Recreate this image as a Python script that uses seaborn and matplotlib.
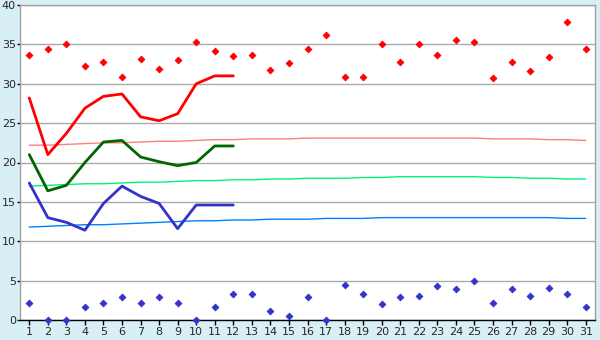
import numpy as np
import pandas as pd
import matplotlib
matplotlib.use("Agg")
import matplotlib.pyplot as plt
import seaborn as sns

# days of the month
days = list(range(1, 32))

# daily max points (red) and min points (blue)
max_pts = [33.7, 34.4, 35.0, 32.2, 32.8, 30.9, 33.2, 31.9, 33.0, 35.3,
           34.1, 33.5, 33.6, 31.8, 32.6, 34.4, 36.2, 30.9, 30.9, 35.0,
           32.8, 35.0, 33.6, 35.6, 35.3, 30.7, 32.8, 31.6, 33.4, 37.8, 34.4]
min_pts = [2.2, 0.0, 0.0, 1.7, 2.2, 2.9, 2.2, 2.9, 2.2, 0.0,
           1.7, 3.3, 3.3, 1.1, 0.5, 2.9, 0.0, 4.4, 3.3, 2.0,
           2.9, 3.0, 4.3, 3.9, 5.0, 2.2, 4.0, 3.0, 4.1, 3.3, 1.7]

# current month (first 12 days)
cur_days = list(range(1, 13))
cur_max = [28.2, 21.0, 23.7, 26.9, 28.4, 28.7, 25.8, 25.3, 26.2, 30.0, 31.0, 31.0]
cur_mean = [21.0, 16.4, 17.1, 20.0, 22.6, 22.8, 20.7, 20.1, 19.6, 20.0, 22.1, 22.1]
cur_min = [17.4, 13.0, 12.4, 11.4, 14.8, 17.0, 15.7, 14.8, 11.6, 14.6, 14.6, 14.6]

# long-term normals
norm_max = [22.2, 22.2, 22.3, 22.4, 22.5, 22.5, 22.6, 22.7, 22.7, 22.8,
            22.9, 22.9, 23.0, 23.0, 23.0, 23.1, 23.1, 23.1, 23.1, 23.1,
            23.1, 23.1, 23.1, 23.1, 23.1, 23.0, 23.0, 23.0, 22.9, 22.9, 22.8]
norm_mean = [17.0, 17.1, 17.2, 17.3, 17.3, 17.4, 17.5, 17.5, 17.6, 17.7,
             17.7, 17.8, 17.8, 17.9, 17.9, 18.0, 18.0, 18.0, 18.1, 18.1,
             18.2, 18.2, 18.2, 18.2, 18.2, 18.1, 18.1, 18.0, 18.0, 17.9, 17.9]
norm_min = [11.8, 11.9, 12.0, 12.1, 12.1, 12.2, 12.3, 12.4, 12.5, 12.6,
            12.6, 12.7, 12.7, 12.8, 12.8, 12.8, 12.9, 12.9, 12.9, 13.0,
            13.0, 13.0, 13.0, 13.0, 13.0, 13.0, 13.0, 13.0, 13.0, 12.9, 12.9]

bg = "#d9eff6"

sns.set_style("white")
plt.rcParams['font.family'] = ['DejaVu Sans']

fig = plt.figure(figsize=(6, 3.4), dpi=100, facecolor=bg)
ax = fig.add_axes([20 / 600, 20 / 340, 575 / 600, 315 / 340])
ax.set_facecolor("white")

# grid
ax.set_ylim(0, 40)
ax.set_xlim(0.5, 31.5)
ax.set_yticks(range(0, 41, 5))
ax.set_xticks(days)
ax.yaxis.grid(True, color="#aaaaaa", linewidth=1)
ax.set_axisbelow(True)

# normals (thin)
sns.lineplot(x=days, y=norm_max, ax=ax, color="#ff8080", linewidth=1, zorder=2)
sns.lineplot(x=days, y=norm_mean, ax=ax, color="#00f080", linewidth=1, zorder=2)
sns.lineplot(x=days, y=norm_min, ax=ax, color="#0080ff", linewidth=1, zorder=2)

# current values (thick)
sns.lineplot(x=cur_days, y=cur_max, ax=ax, color="#ff0000", linewidth=2, zorder=3)
sns.lineplot(x=cur_days, y=cur_mean, ax=ax, color="#006600", linewidth=2, zorder=3)
sns.lineplot(x=cur_days, y=cur_min, ax=ax, color="#3333cc", linewidth=2, zorder=3)

# extremes
sns.scatterplot(x=days, y=max_pts, ax=ax, color="#ff0000", marker="D", s=12,
                linewidth=0.6, edgecolor="#ff0000", zorder=4)
sns.scatterplot(x=days, y=min_pts, ax=ax, color="#3333cc", marker="D", s=12,
                linewidth=0.6, edgecolor="#3333cc", zorder=4, clip_on=False)

for s in ["left", "right", "top"]:
    ax.spines[s].set_color("#a0a0a0")
    ax.spines[s].set_linewidth(1)
ax.spines["bottom"].set_color("black")
ax.spines["bottom"].set_linewidth(1)

ax.tick_params(axis="y", direction="out", length=2, width=1,
               color="black", labelsize=8, pad=1, left=True)
ax.tick_params(axis="x", direction="out", length=3.5, width=1,
               color="black", labelsize=8, pad=1.5, bottom=True)
ax.set_xlabel("")
ax.set_ylabel("")

fig.savefig("out.png", dpi=100, facecolor=bg)
